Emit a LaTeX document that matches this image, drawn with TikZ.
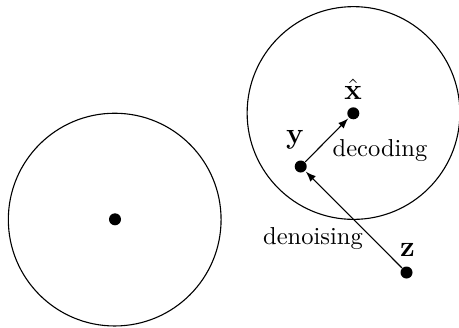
\documentclass[tikz,border=0pt]{standalone}
\usetikzlibrary{arrows}
\begin{document}
\begin{tikzpicture}[x=0.408pt,y=-0.408pt,
  dot/.style={circle,fill=black,minimum size=4.9pt,inner sep=0pt},
  ring/.style={draw=black,line width=0.45pt},
  conn/.style={-latex,line width=0.45pt,shorten >=0.3pt},
  lbl/.style={inner sep=0pt},
  vlbl/.style={inner sep=0pt,font=\large}]
\useasboundingbox (0,0) rectangle (459,327);
\draw[ring] (114.7,219.6) circle[radius=43.4pt];
\draw[ring] (353.5,113) circle[radius=43.4pt];
\node[dot] (c) at (115,219.3) {};
\node[dot] (xh) at (353.3,113.3) {};
\node[dot] (y) at (300.7,166.5) {};
\node[dot] (z) at (406.5,272.5) {};
\node[vlbl] (lxh) at (353,89) {$\hat{\mathbf{x}}$};
\node[vlbl] (ly) at (295,140) {$\mathbf{y}$};
\node[vlbl] (lz) at (407.5,250) {$\mathbf{z}$};
\node[lbl] (ldec) at (380,150.5) {decoding};
\node[lbl] (lden) at (313,239) {denoising};
\draw[conn] (y) -- (xh);
\draw[conn] (z) -- (y);
\end{tikzpicture}
\end{document}
